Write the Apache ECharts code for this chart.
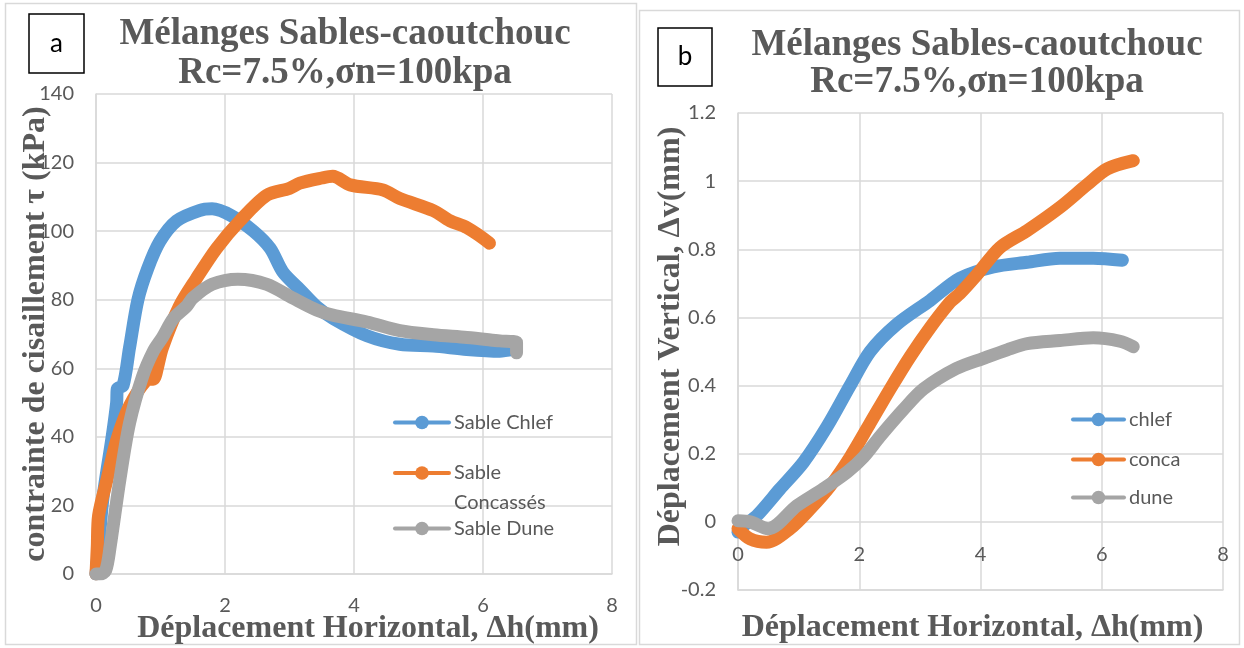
<!DOCTYPE html>
<html>
<head>
<meta charset="utf-8">
<script src="https://cdn.jsdelivr.net/npm/echarts@6/dist/echarts.min.js"></script>
<style>
  html, body { margin: 0; padding: 0; background: #ffffff; }
  #chart { width: 1244px; height: 648px; }
</style>
</head>
<body>
<div id="chart"></div>
<script>
// ---- Panel a : shear stress vs horizontal displacement ----
const tauChlefX = [0, 0.05, 0.11, 0.25, 0.32, 0.33, 0.42, 0.52, 0.65, 0.8, 0.99, 1.25, 1.6, 1.8, 2.1, 2.44, 2.7, 2.9, 3.16, 3.42, 3.68, 4.2, 4.71, 5.23, 5.75, 6.26, 6.47];
const tauChlefY = [0, 10, 22.5, 40, 50, 54, 55, 66, 80, 89, 97, 103, 106, 106.5, 104.5, 100, 95, 88, 83, 78, 74.5, 69.5, 67, 66.5, 65.5, 65, 65.5];

const tauConcaX = [0, 0.02, 0.04, 0.17, 0.32, 0.52, 0.78, 0.9, 0.95, 1.03, 1.29, 1.55, 1.87, 2.23, 2.65, 3.0, 3.16, 3.5, 3.67, 3.94, 4.45, 4.71, 5.23, 5.49, 5.75, 6.1];
const tauConcaY = [0, 8, 17, 27.5, 39, 49, 56.5, 57, 60, 66, 78, 86, 95, 103, 110.5, 112.5, 114, 115.5, 116, 113.5, 112, 109.5, 106, 103, 101, 96.5];

const tauDuneX = [0, 0.06, 0.15, 0.22, 0.37, 0.52, 0.72, 0.89, 1.03, 1.2, 1.4, 1.5, 1.8, 2.2, 2.65, 3.05, 3.42, 3.67, 4.2, 4.71, 5.23, 5.75, 6.26, 6.52, 6.52];
const tauDuneY = [0, 0, 1, 8, 27.5, 44, 57.5, 65, 69, 74.5, 78, 80.5, 84.5, 86, 84.5, 80.5, 77, 75.5, 73.5, 71, 69.8, 69, 68, 67.5, 64.5];

// ---- Panel b : vertical vs horizontal displacement ----
const dvChlefX = [0, 0.1, 0.31, 0.69, 1.08, 1.47, 1.85, 2.18, 2.62, 3.17, 3.66, 4.21, 4.77, 5.31, 5.86, 6.34];
const dvChlefY = [-0.03, -0.01, 0.018, 0.096, 0.175, 0.28, 0.40, 0.50, 0.58, 0.65, 0.715, 0.748, 0.762, 0.774, 0.774, 0.768];

const dvConcaX = [0, 0.2, 0.47, 0.86, 1.19, 1.52, 1.85, 2.18, 2.51, 2.84, 3.17, 3.5, 3.66, 3.94, 4.32, 4.77, 5.31, 5.76, 6.09, 6.52];
const dvConcaY = [-0.02, -0.05, -0.06, -0.02, 0.038, 0.105, 0.19, 0.29, 0.39, 0.485, 0.57, 0.645, 0.67, 0.725, 0.805, 0.855, 0.923, 0.99, 1.036, 1.06];

const dvDuneX = [0, 0.2, 0.5, 0.97, 1.4, 1.8, 2.07, 2.34, 2.73, 3.06, 3.6, 4.05, 4.44, 4.77, 5.31, 5.86, 6.3, 6.52];
const dvDuneY = [0.003, 0, -0.02, 0.047, 0.096, 0.146, 0.19, 0.25, 0.33, 0.39, 0.45, 0.48, 0.505, 0.523, 0.532, 0.54, 0.53, 0.514];

// ---- Axis ranges and labels ----
const xTicks = { min: 0, max: 8, interval: 2 };
const tauTicks = { min: 0, max: 140, interval: 20 };
const dvTicks = { min: -0.2, max: 1.2, interval: 0.2 };

const titleLines = ['Mélanges Sables-caoutchouc', 'Rc=7.5%,σn=100kpa'];
const namesA = ['Sable Chlef', 'Sable Concassés', 'Sable Dune'];
const namesB = ['chlef', 'conca', 'dune'];
const xName = 'Déplacement Horizontal, Δh(mm)';
const yNameA = 'contrainte de cisaillement τ (kPa)';
const yNameB = 'Déplacement Vertical, Δv(mm)';

const BLUE = '#5B9BD5', ORANGE = '#ED7D31', GRAY = '#A5A5A5';
const TEXT = '#595959', GRID = '#D9D9D9';
const SANS = 'Lato, "Open Sans", sans-serif';
const SERIF = '"Liberation Serif", "Times New Roman", serif';

const zip = (xs, ys) => xs.map((x, i) => [x, ys[i]]);

function valueAxis(ticks, gridIndex, extra) {
  const base = {
    type: 'value',
    gridIndex: gridIndex,
    min: ticks.min, max: ticks.max, interval: ticks.interval,
    axisLine: { show: true, onZero: false, lineStyle: { color: GRID, width: 1.5 } },
    axisTick: { show: false },
    splitLine: { show: true, lineStyle: { color: GRID, width: 1.5 } },
    axisLabel: { color: TEXT, fontFamily: SANS, fontSize: 20, margin: 22 },
    nameMoveOverlap: false
  };
  return Object.assign(base, extra);
}

function lineSeries(name, data, color, xi, yi) {
  return {
    type: 'line', name: name, data: data,
    xAxisIndex: xi, yAxisIndex: yi,
    smooth: 0.3, showSymbol: false, symbol: 'circle',
    color: color,
    itemStyle: { color: color },
    lineStyle: { color: color, width: 13, cap: 'round', join: 'round' },
    animation: false
  };
}

function legendItem(name, left, cy, width) {
  return {
    data: [name],
    left: left, top: cy - 8.5,
    padding: 0,
    itemWidth: width, itemHeight: 17,
    lineStyle: { width: 4 },
    textStyle: { color: TEXT, fontFamily: SANS, fontSize: 20, lineHeight: 17 }
  };
}

const nameStyle = { color: TEXT, fontFamily: SERIF, fontWeight: 'bold', fontSize: 32 };
const titleStyle = { color: TEXT, fontFamily: SERIF, fontWeight: 'bold', fontSize: 37, lineHeight: 39 };

const option = {
  animation: false,
  backgroundColor: '#ffffff',
  title: [
    { text: titleLines.join('\n'), left: 345, top: 15, textAlign: 'center', padding: 0, textStyle: titleStyle },
    { text: titleLines.join('\n'), left: 977, top: 27, textAlign: 'center', padding: 0,
      textStyle: Object.assign({}, titleStyle, { lineHeight: 37 }) }
  ],
  grid: [
    { left: 96, top: 94, width: 516, height: 480, outerBoundsMode: 'none', containLabel: false },
    { left: 738, top: 113, width: 485, height: 477, outerBoundsMode: 'none', containLabel: false }
  ],
  xAxis: [
    valueAxis(xTicks, 0, { name: xName, nameLocation: 'middle', nameGap: 39,
      nameTextStyle: Object.assign({ padding: [0, 0, 0, 28] }, nameStyle) }),
    // labels sit just under the zero line of the Δv scale
    valueAxis(xTicks, 1, { name: xName, nameLocation: 'middle', nameGap: 22,
      axisLabel: { color: TEXT, fontFamily: SANS, fontSize: 20, margin: -45 },
      nameTextStyle: Object.assign({ padding: [0, 16, 0, 0] }, nameStyle) })
  ],
  yAxis: [
    valueAxis(tauTicks, 0, { name: yNameA, nameLocation: 'middle', nameRotate: 90, nameGap: 44,
      nameTextStyle: nameStyle }),
    valueAxis(dvTicks, 1, { name: yNameB, nameLocation: 'middle', nameRotate: 90, nameGap: 51,
      nameTextStyle: Object.assign({ padding: [0, 0, 0, 30] }, nameStyle) })
  ],
  legend: [
    legendItem(namesA[0], 393, 421, 54),
    Object.assign(legendItem(namesA[1], 393, 473, 54), {
      top: 473 - 45,
      formatter: () => ' \nSable\nConcassés',
      textStyle: { color: TEXT, fontFamily: SANS, fontSize: 20, lineHeight: 30 }
    }),
    legendItem(namesA[2], 393, 527, 54),
    legendItem(namesB[0], 1071, 418, 51),
    legendItem(namesB[1], 1071, 458, 51),
    legendItem(namesB[2], 1071, 496, 51)
  ],
  series: [
    lineSeries(namesA[0], zip(tauChlefX, tauChlefY), BLUE, 0, 0),
    lineSeries(namesA[1], zip(tauConcaX, tauConcaY), ORANGE, 0, 0),
    lineSeries(namesA[2], zip(tauDuneX, tauDuneY), GRAY, 0, 0),
    lineSeries(namesB[0], zip(dvChlefX, dvChlefY), BLUE, 1, 1),
    lineSeries(namesB[1], zip(dvConcaX, dvConcaY), ORANGE, 1, 1),
    lineSeries(namesB[2], zip(dvDuneX, dvDuneY), GRAY, 1, 1)
  ],
  graphic: [
    // panel frames
    { type: 'rect', shape: { x: 5.5, y: 3.5, width: 631, height: 641 }, silent: true,
      style: { fill: null, stroke: GRID, lineWidth: 1.5 }, z: -1 },
    { type: 'rect', shape: { x: 639.5, y: 10.5, width: 600, height: 634 }, silent: true,
      style: { fill: null, stroke: GRID, lineWidth: 1.5 }, z: -1 },
    // panel letters
    { type: 'rect', shape: { x: 29, y: 14, width: 55, height: 59 },
      style: { fill: '#ffffff', stroke: '#000000', lineWidth: 1.5 } },
    { type: 'text', x: 56.5, y: 44, style: { text: 'a', fill: '#000000', font: '26px Lato, sans-serif',
      textAlign: 'center', textVerticalAlign: 'middle' } },
    { type: 'rect', shape: { x: 658, y: 28, width: 54, height: 58 },
      style: { fill: '#ffffff', stroke: '#000000', lineWidth: 1.5 } },
    { type: 'text', x: 685, y: 57, style: { text: 'b', fill: '#000000', font: '26px Lato, sans-serif',
      textAlign: 'center', textVerticalAlign: 'middle' } }
  ]
};

const chart = echarts.init(document.getElementById('chart'), null, { renderer: 'canvas' });
chart.setOption(option);
</script>
</body>
</html>
